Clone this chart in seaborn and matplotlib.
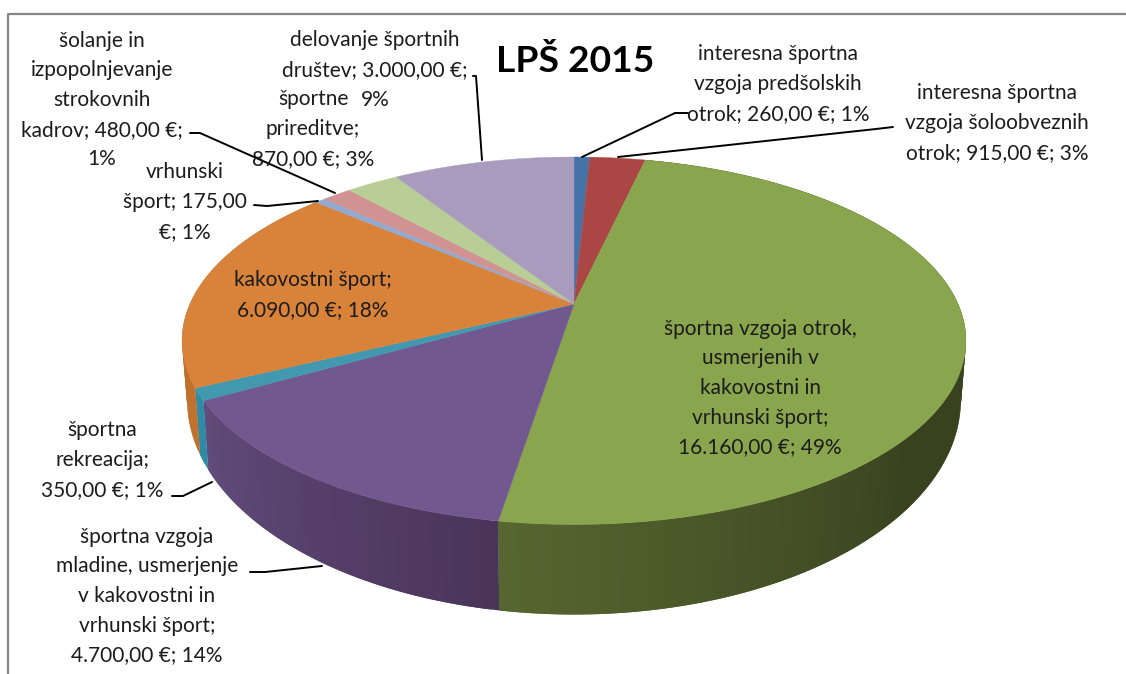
import matplotlib
matplotlib.use("Agg")
import matplotlib.pyplot as plt
import seaborn as sns
import numpy as np

vrednosti = [260, 915, 16160, 4700, 350, 6090, 175, 480, 870, 3000]
barve = ['#4572a7', '#aa4643', '#89a54e', '#71588f', '#4198af',
         '#d8823a', '#93a9cf', '#d19392', '#b9cd96', '#a99bbd']
# stranica: barva na zacetku in na koncu izseka
stranice = [('#2f4f75', '#2f4f75'), ('#7a3230', '#7a3230'), ('#39421f', '#566630'),
            ('#4a3559', '#614b7c'), ('#2f8aa5', '#2f8aa5'), ('#c0712e', '#b86c2c'),
            ('#6f83a3', '#6f83a3'), ('#a87170', '#a87170'), ('#8ea073', '#8ea073'),
            ('#82769a', '#82769a')]
oznake = [
    "interesna športna\nvzgoja predšolskih\notrok; 260,00 €; 1%",
    "interesna športna\nvzgoja šoloobveznih\notrok; 915,00 €; 3%",
    "športna vzgoja otrok,\nusmerjenih v\nkakovostni in\nvrhunski šport;\n16.160,00 €; 49%",
    "športna vzgoja\nmladine, usmerjenje\nv kakovostni in\nvrhunski šport;\n4.700,00 €; 14%",
    "športna\nrekreacija;\n350,00 €; 1%",
    "kakovostni šport;\n6.090,00 €; 18%",
    "vrhunski\nšport; 175,00\n€; 1%",
    "šolanje in\nizpopolnjevanje\nstrokovnih\nkadrov; 480,00 €;\n1%",
    "športne\nprireditve;\n870,00 €; 3%",
    "delovanje športnih\ndruštev; 3.000,00 €;\n9%",
]
polozaji = [(778, 84), (997, 123), (760, 388), (147, 596), (102, 460),
            (313, 295), (185, 202), (102, 100), (313, 129), (375, 70)]
crte = [
    [(688, 113), (675, 113), (582, 157)],
    [(893, 127), (876, 129), (618, 157)],
    None,
    [(250, 572), (265, 572), (322, 566)],
    [(172, 496), (183, 496), (212, 482)],
    None,
    [(254, 205), (267, 206), (318, 201)],
    [(190, 133), (200, 133), (335, 193)],
    None,
    [(473, 76), (476, 76), (482, 160)],
]

sns.set_theme(style="white")
plt.rcParams['font.family'] = ['Lato', 'DejaVu Sans']

fig = plt.figure(figsize=(11.26, 6.74), dpi=100)
ax = fig.add_axes([0, 0, 1, 1])
ax.set_xlim(0, 1126)
ax.set_ylim(674, 0)
ax.axis('off')

KX, NAGIB = 574, 0.2


def zgoraj(kot):
    w = 1 + NAGIB * np.cos(kot)
    return KX + 384 * np.sin(kot) / w, 304 - 176.4 * np.cos(kot) / w


def spodaj(kot):
    w = 1 + NAGIB * np.cos(kot)
    return KX + 379 * np.sin(kot) / w, 357 - 206 * np.cos(kot) / w


meje = np.cumsum([0] + vrednosti) / sum(vrednosti) * 2 * np.pi

# stranice najprej, vrh jih potem prekrije
for i in range(len(vrednosti)):
    od, do = meje[i], meje[i + 1]
    if do < np.radians(60) or od > np.radians(300):
        continue
    n = max(int(np.degrees(do - od)), 2)
    koti = np.linspace(od, do, n + 1)
    if i == 2:
        odtenki = sns.blend_palette([stranice[i][0]] * 3 + [stranice[i][1]], n)
    else:
        odtenki = sns.blend_palette(stranice[i], n)
    # vsak trak sega cez naslednjega, da ni sivih rež
    for j in range(n):
        k = koti[j:j + 3]
        x1, y1 = zgoraj(k)
        x2, y2 = spodaj(k)
        ax.fill(np.r_[x1, x2[::-1]], np.r_[y1, y2[::-1]],
                facecolor=odtenki[j], edgecolor='none', lw=0)

for i in range(len(vrednosti)):
    koti = np.linspace(meje[i], meje[i + 1], 200)
    x, y = zgoraj(koti)
    ax.fill(np.r_[KX, x], np.r_[304, y], color=barve[i], lw=0.3)

# okvir
ax.plot([8, 8, 1126], [674, 14, 14], color='#868686', lw=1.6, clip_on=False)

for oznaka, (tx, ty), crta in zip(oznake, polozaji, crte):
    ax.text(tx, ty, oznaka, ha='center', va='center', fontsize=15,
            linespacing=1.6, color='#1c1c1c')
    if crta:
        ax.plot(*zip(*crta), color='black', lw=1.4)

ax.text(575, 62, "LPŠ 2015", ha='center', va='center', fontsize=26.8,
        fontweight='bold', color='black')

fig.savefig('out.png', dpi=100)
